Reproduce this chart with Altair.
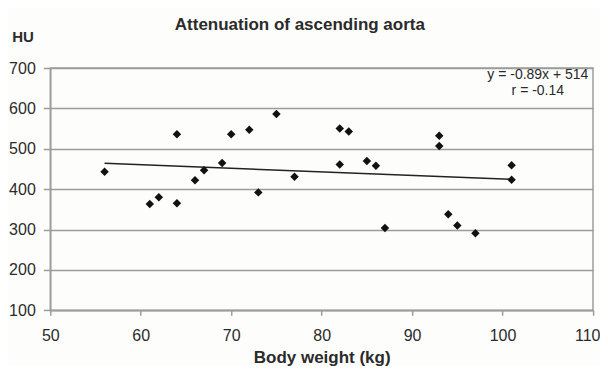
import altair as alt
import pandas as pd

# Data
weight_kg = [56, 61, 62, 64, 64, 66, 67, 69, 70, 72, 73, 75, 77,
             82, 82, 83, 85, 86, 87, 93, 93, 94, 95, 97, 101, 101]
attenuation_hu = [443, 363, 380, 365, 536, 422, 447, 465, 536, 547, 392, 586, 431,
                  461, 550, 543, 470, 458, 304, 532, 507, 338, 310, 291, 459, 423]

trend_x = [56, 101]
trend_y = [464.2, 424.1]

annot_text = ["y = -0.89x + 514", "r = -0.14"]
annot_x = [103.9, 103.9]
annot_y = [682, 643.6]

x_ticks = [50, 60, 70, 80, 90, 100, 110]
y_ticks = [100, 200, 300, 400, 500, 600, 700]

FONT = "Liberation Sans"
TXT = "#2b2b2b"
GRID = "#9c9c9c"

pts = pd.DataFrame({"w": weight_kg, "hu": attenuation_hu})
trend = pd.DataFrame({"w": trend_x, "hu": trend_y})
annot = pd.DataFrame({"w": annot_x, "hu": annot_y, "t": annot_text})

xscale = alt.Scale(domain=[50, 110], nice=False, zero=False)
yscale = alt.Scale(domain=[100, 700], nice=False, zero=False)

xaxis = alt.Axis(values=x_ticks, grid=False, title="Body weight (kg)",
                 titleFont=FONT, titleFontSize=17, titleFontWeight="bold",
                 titleColor=TXT, titleBaseline="alphabetic", titleY=52.5,
                 labelFont=FONT, labelFontSize=16, labelColor=TXT,
                 labelPadding=12.5, tickSize=5, tickColor=GRID, tickWidth=1.5,
                 domainColor=GRID, domainWidth=1.5, labelFlush=False,
                 labelAlign={"condition": {"test": "datum.value == 110", "value": "right"},
                             "value": "center"},
                 labelOffset={"condition": {"test": "datum.value == 110", "value": 7},
                              "value": 0})
yaxis = alt.Axis(values=y_ticks, grid=True, gridColor=GRID, gridWidth=1.5,
                 title="HU", titleFont=FONT, titleFontSize=15, titleFontWeight="bold",
                 titleColor=TXT, titleAngle=0, titleAlign="left",
                 titleBaseline="alphabetic", titleX=-38.6, titleY=-27,
                 labelFont=FONT, labelFontSize=16, labelColor=TXT,
                 labelPadding=8, tickSize=7, tickColor=GRID, tickWidth=1.5,
                 domainColor=GRID, domainWidth=1.5, labelFlush=False)

points = alt.Chart(pts).mark_point(shape="diamond", filled=True, size=72,
                                   color="#111111", opacity=1).encode(
    x=alt.X("w:Q", scale=xscale, axis=xaxis),
    y=alt.Y("hu:Q", scale=yscale, axis=yaxis),
)

line = alt.Chart(trend).mark_line(color="#222222", strokeWidth=1.5).encode(
    x=alt.X("w:Q", scale=xscale),
    y=alt.Y("hu:Q", scale=yscale),
)

text = alt.Chart(annot).mark_text(font=FONT, fontSize=14, color=TXT,
                                  align="center", baseline="middle").encode(
    x=alt.X("w:Q", scale=xscale),
    y=alt.Y("hu:Q", scale=yscale),
    text="t:N",
)

chart = alt.layer(line, points, text).properties(
    width=542.9,
    height=242.3,
    autosize=alt.AutoSizeParams(type="none"),
    padding={"left": 42.3, "top": 60, "right": 7, "bottom": 55.7},
    background="#fdfdfb",
    title=alt.TitleParams("Attenuation of ascending aorta", font=FONT,
                          fontSize=17, fontWeight="bold", color=TXT,
                          anchor="middle", dx=-21.8, dy=20, baseline="alphabetic",
                          offset=2),
).configure_view(stroke=GRID, strokeWidth=1.5)

chart.save("out.html", embed_options={"renderer": "svg", "actions": False})
